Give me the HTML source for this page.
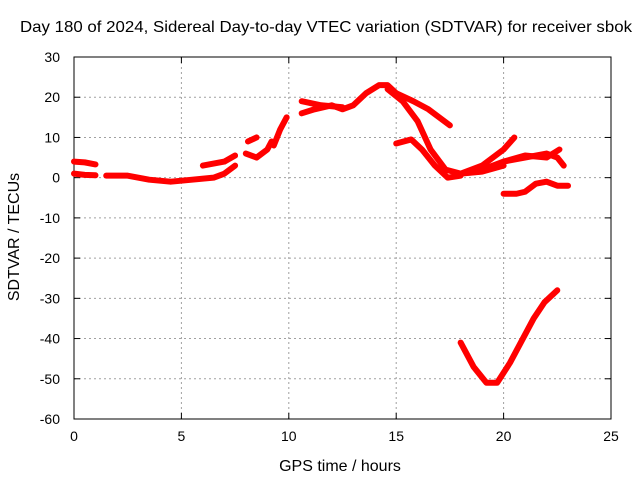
<!DOCTYPE html>
<html><head><meta charset="utf-8"><style>
body{margin:0;background:#fff;}
text{font-family:"Liberation Sans",sans-serif;font-size:14px;fill:#000;}
.big{font-size:16px;}
</style></head><body>
<svg id="chart" width="640" height="480">
<rect x="0" y="0" width="640" height="480" fill="#fff"/>
<g id="grid"></g><g id="axes"></g><g id="series"></g>
<text class="big" x="326" y="32" text-anchor="middle" textLength="612" lengthAdjust="spacingAndGlyphs">Day 180 of 2024, Sidereal Day-to-day VTEC variation (SDTVAR) for receiver sbok</text>
<text class="big" x="340" y="471" text-anchor="middle">GPS time / hours</text>
<text class="big" x="0" y="0" text-anchor="middle" transform="translate(19,237) rotate(-90)">SDTVAR / TECUs</text>
</svg>
<script>
const xTicks=[0,5,10,15,20,25];
const yTicks=[30,20,10,0,-10,-20,-30,-40,-50,-60];
const seriesA=[[0,4],[0.5,3.8],[1,3.3]];
const seriesA2=[[0,1],[0.5,0.7],[1,0.6]];
const seriesB=[[1.5,0.5],[2.5,0.5],[3.5,-0.5],[4.5,-1],[5.5,-0.5],[6.5,0],[7,1],[7.5,3]];
const seriesC=[[6,3],[6.5,3.5],[7,4],[7.5,5.5]];
const seriesD=[[8,6],[8.5,5],[9,7],[9.2,9]];
const seriesD2=[[8.1,9],[8.5,10]];
const seriesE=[[9.3,8],[9.6,12],[9.9,15]];
const seriesF=[[10.6,16],[11.2,17],[12,18],[12.5,17],[13,18],[13.6,21],[14.2,23],[14.6,23],[15,21],[15.8,19],[16.5,17],[17.5,13]];
const seriesF2=[[10.6,19],[11.5,18],[12.5,17.5]];
const seriesG=[[14.6,22],[15.3,19],[16,14],[16.6,7],[17.3,2],[18,1],[19,1.5],[20,3]];
const seriesH=[[15,8.5],[15.7,9.5],[16.2,7],[16.8,3],[17.4,0],[18,0.5]];
const seriesI=[[18,1],[19,3],[20,7],[20.5,10]];
const seriesJ=[[19,2],[20,4],[21,5],[22,6],[22.5,5],[22.8,3]];
const seriesJ2=[[20,4],[21,5.5],[22,5],[22.6,7]];
const seriesK=[[20,-4],[20.6,-4],[21,-3.5],[21.5,-1.5],[22,-1],[22.5,-2],[23,-2]];
const seriesL=[[18,-41],[18.6,-47],[19.2,-51],[19.7,-51],[20.3,-46],[20.8,-41],[21.4,-35],[21.9,-31],[22.5,-28]];
const allSeries=[seriesA,seriesA2,seriesB,seriesC,seriesD,seriesD2,seriesE,seriesF,seriesF2,seriesG,seriesH,seriesI,seriesJ,seriesJ2,seriesK,seriesL];
const X0=74,X1=611,Y0=57,Y1=419;
function sx(v){return X0+(v-0)/(25-0)*(X1-X0);}
function sy(v){return Y0+(30-v)/(90)*(Y1-Y0);}
const NS="http://www.w3.org/2000/svg";
function mk(tag,attrs,parent){const e=document.createElementNS(NS,tag);for(const k in attrs)e.setAttribute(k,attrs[k]);parent.appendChild(e);return e;}
const grid=document.getElementById('grid'),axes=document.getElementById('axes'),ser=document.getElementById('series');
xTicks.forEach(t=>{const x=sx(t);
 if(t>0&&t<25){const g=mk('line',{x1:x,x2:x,y1:Y0,y2:Y1,stroke:'#a0a0a0','stroke-dasharray':'2,3','stroke-width':1},grid);
 }
 const tk=mk('line',{x1:x,x2:x,y1:Y1,y2:Y1-6,stroke:'#000'},axes);
 mk('line',{x1:x,x2:x,y1:Y0,y2:Y0+6,stroke:'#000'},axes);
 const l=mk('text',{x:x,y:Y1+22,'text-anchor':'middle'},axes);l.textContent=t;
 });
yTicks.forEach(t=>{const y=sy(t);
 if(t<30&&t>-60){const g=mk('line',{x1:X0,x2:X1,y1:y,y2:y,stroke:'#a0a0a0','stroke-dasharray':'2,3','stroke-width':1},grid);
 }
 mk('line',{x1:X0,x2:X0+6,y1:y,y2:y,stroke:'#000'},axes);
 mk('line',{x1:X1,x2:X1-6,y1:y,y2:y,stroke:'#000'},axes);
 const l=mk('text',{x:X0-14,y:y+5,'text-anchor':'end'},axes);l.textContent=t;
 });
const fr=mk('rect',{x:X0,y:Y0,width:X1-X0,height:Y1-Y0,fill:'none',stroke:'#000'},axes);

allSeries.forEach((s,i)=>{
 const p=mk('polyline',{points:s.map(d=>sx(d[0])+','+sy(d[1])).join(' '),fill:'none',stroke:'#f00','stroke-width':6,'stroke-linejoin':'round','stroke-linecap':'round'},ser);
 
 
});
</script>
</body></html>
